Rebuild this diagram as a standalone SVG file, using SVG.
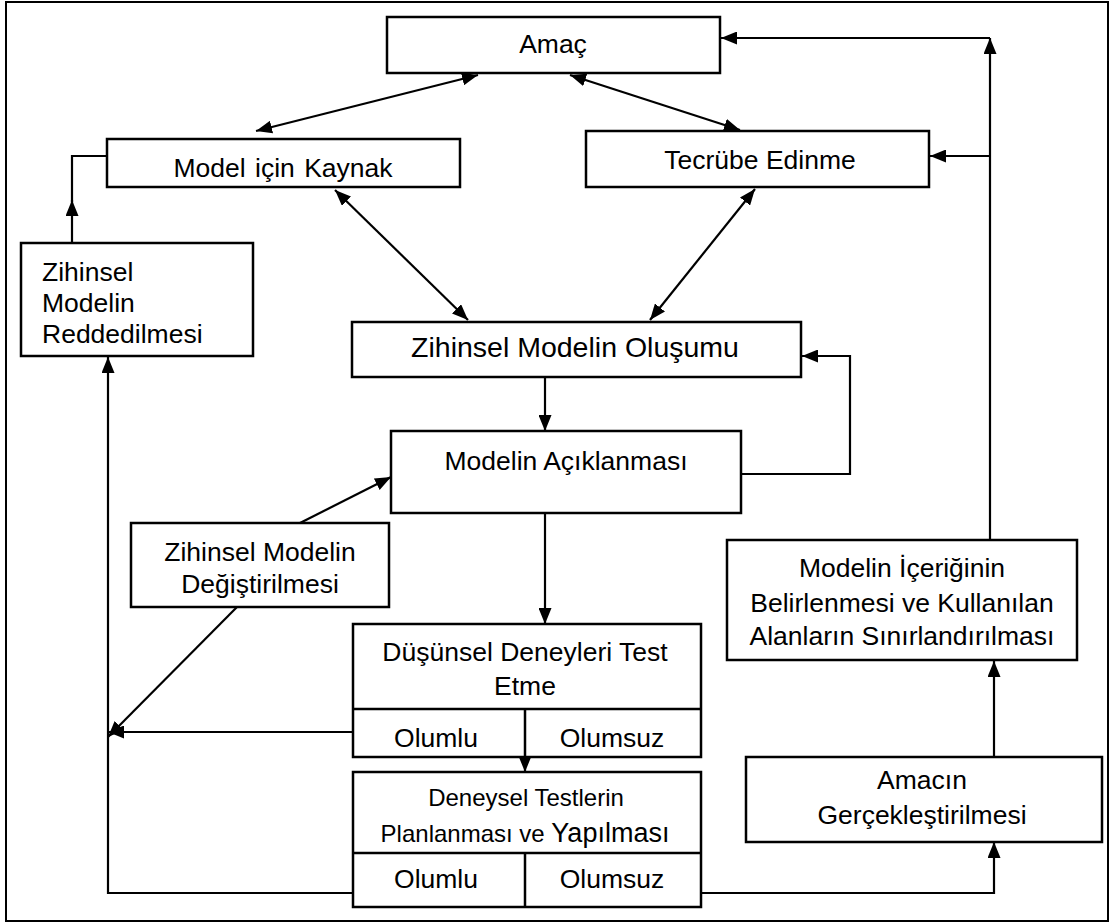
<svg xmlns="http://www.w3.org/2000/svg" width="1111" height="924" viewBox="0 0 1111 924">
  <defs>
    <marker id="arrow" viewBox="0 0 16 13" refX="16" refY="6.5" markerWidth="16" markerHeight="13" markerUnits="userSpaceOnUse" orient="auto-start-reverse">
      <path d="M0,0 L16,6.5 L0,13 z" fill="#000"/>
    </marker>
  </defs>
  <style>
    .box { fill: #fff; stroke: #000; stroke-width: 2.5; }
    .frame { fill: #fff; stroke: #000; stroke-width: 2; }
    .wire { fill: none; stroke: #000; stroke-width: 2.2; }
    .arr { marker-end: url(#arrow); }
    .both { marker-start: url(#arrow); marker-end: url(#arrow); }
    text { font-family: "Liberation Sans", Arial, sans-serif; font-size: 26.5px; fill: #000; }
    .c { text-anchor: middle; }
  </style>

  <rect class="frame" x="6" y="2" width="1102" height="919"/>

  <!-- connectors -->
  <g id="connectors">
    <line class="wire both" x1="478" y1="75" x2="256" y2="131"/>
    <line class="wire both" x1="570" y1="75" x2="740" y2="130"/>
    <line class="wire both" x1="335" y1="190" x2="468" y2="320"/>
    <line class="wire both" x1="755" y1="189" x2="650" y2="320"/>
    <line class="wire arr" x1="545" y1="377" x2="545" y2="431"/>
    <polyline class="wire arr" points="741,474 850,474 850,356 802,356"/>
    <line class="wire arr" x1="545" y1="513" x2="545" y2="624"/>
    <line class="wire arr" x1="300" y1="523" x2="391" y2="477"/>
    <line class="wire arr" x1="237" y1="607" x2="108" y2="737"/>
    <line class="wire arr" x1="353" y1="732" x2="108" y2="732"/>
    <polyline class="wire arr" points="353,893 108,893 108,357"/>
    <line class="wire arr" x1="525" y1="757" x2="525" y2="772"/>
    <polyline class="wire arr" points="701,893 994,893 994,842"/>
    <line class="wire arr" x1="994" y1="757" x2="994" y2="661"/>
    <line class="wire arr" x1="990" y1="540" x2="990" y2="38"/>
    <line class="wire arr" x1="990" y1="38" x2="721" y2="38"/>
    <line class="wire arr" x1="990" y1="156" x2="930" y2="156"/>
    <line class="wire arr" x1="72" y1="243" x2="72" y2="200"/>
    <polyline class="wire" points="72,202 72,156 107,156"/>
  </g>

  <g id="amac">
    <rect class="box" x="387" y="17" width="333" height="56"/>
    <text class="c" x="553" y="53">Amaç</text>
  </g>

  <g id="model-kaynak">
    <rect class="box" x="107" y="139" width="353" height="48"/>
    <text class="c" x="283" y="177" word-spacing="2">Model için Kaynak</text>
  </g>

  <g id="tecrube">
    <rect class="box" x="586" y="131" width="343" height="56"/>
    <text class="c" x="760" y="169">Tecrübe Edinme</text>
  </g>

  <g id="reddedilmesi">
    <rect class="box" x="21" y="243" width="232" height="113"/>
    <text x="42" y="281">Zihinsel</text>
    <text x="42" y="312">Modelin</text>
    <text x="42" y="343">Reddedilmesi</text>
  </g>

  <g id="olusumu">
    <rect class="box" x="352" y="322" width="449" height="55"/>
    <text class="c" x="575" y="357" style="font-size:28.5px">Zihinsel Modelin Oluşumu</text>
  </g>

  <g id="aciklanmasi">
    <rect class="box" x="391" y="431" width="350" height="82"/>
    <text class="c" x="566" y="470">Modelin Açıklanması</text>
  </g>

  <g id="degistirilmesi">
    <rect class="box" x="131" y="523" width="258" height="84"/>
    <text class="c" x="260" y="561">Zihinsel Modelin</text>
    <text class="c" x="260" y="593">Değiştirilmesi</text>
  </g>

  <g id="dusunsel">
    <rect class="box" x="353" y="624" width="348" height="133"/>
    <line class="box" x1="353" y1="709" x2="701" y2="709"/>
    <line class="box" x1="525" y1="709" x2="525" y2="757"/>
    <text class="c" x="525" y="661">Düşünsel Deneyleri Test</text>
    <text class="c" x="525" y="695">Etme</text>
    <text class="c" x="436" y="747">Olumlu</text>
    <text class="c" x="612" y="747">Olumsuz</text>
  </g>

  <g id="deneysel">
    <rect class="box" x="353" y="772" width="348" height="135"/>
    <line class="box" x1="353" y1="853" x2="701" y2="853"/>
    <line class="box" x1="525" y1="853" x2="525" y2="907"/>
    <text class="c" x="526" y="806" style="font-size:24px">Deneysel Testlerin</text>
    <text class="c" x="525" y="842" style="font-size:24px">Planlanması ve <tspan style="font-size:27px">Yapılması</tspan></text>
    <text class="c" x="436" y="888">Olumlu</text>
    <text class="c" x="612" y="888">Olumsuz</text>
  </g>

  <g id="iceriginin">
    <rect class="box" x="727" y="540" width="350" height="120"/>
    <text class="c" x="902" y="577">Modelin İçeriğinin</text>
    <text class="c" x="902" y="612">Belirlenmesi ve Kullanılan</text>
    <text class="c" x="902" y="645">Alanların Sınırlandırılması</text>
  </g>

  <g id="amacin">
    <rect class="box" x="746" y="757" width="356" height="85"/>
    <text class="c" x="922" y="789">Amacın</text>
    <text class="c" x="922" y="824">Gerçekleştirilmesi</text>
  </g>
</svg>
